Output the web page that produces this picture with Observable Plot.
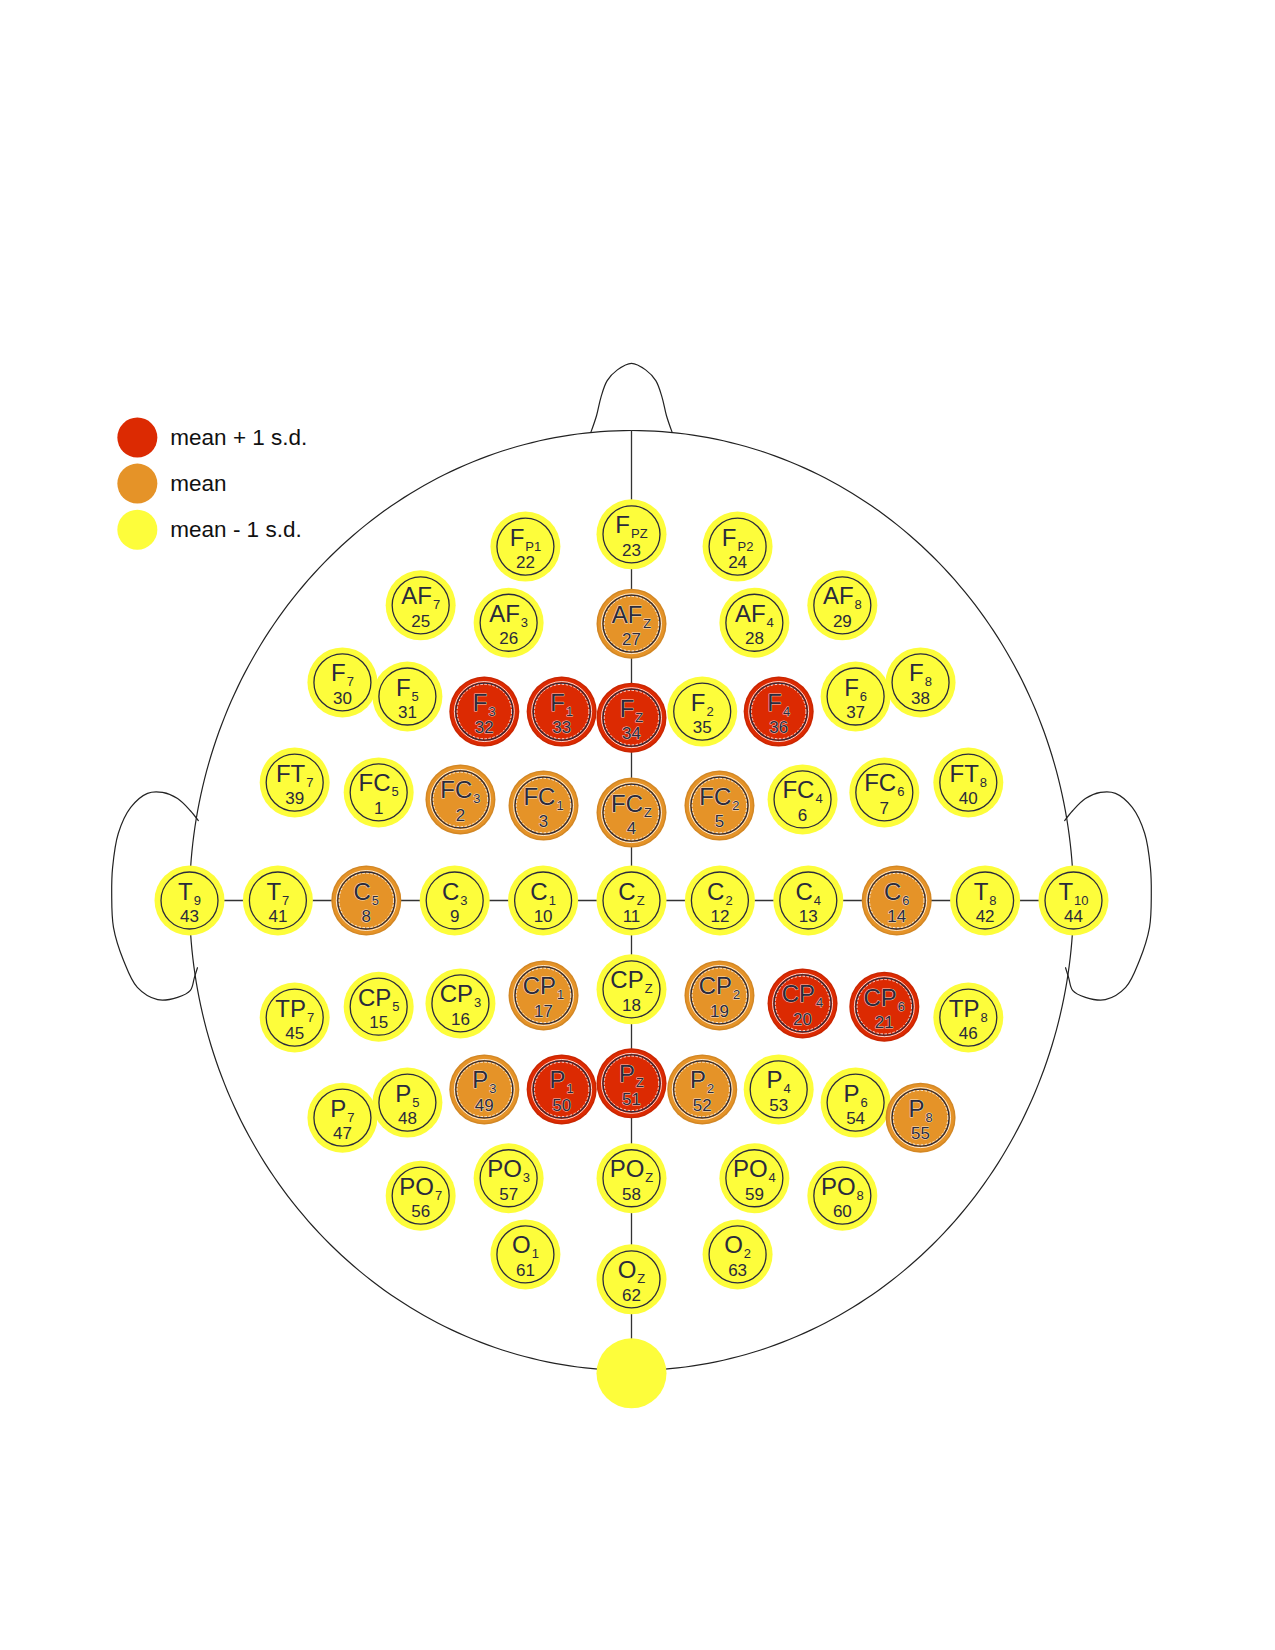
<!DOCTYPE html>
<html><head><meta charset="utf-8">
<script src="https://cdn.jsdelivr.net/npm/d3@7"></script>
<script src="https://cdn.jsdelivr.net/npm/@observablehq/plot@0.6"></script>
<style>body{margin:0;background:#fff} svg{display:block}</style>
</head><body><div id="chart"></div>
<script>
// ---- data (electrode montage, normalized head units: head radius = 1, front = up) ----
const electrodeMain = ["F","F","F","AF","AF","AF","AF","AF","F","F","F","F","F","F","F","F","F",
  "FT","FC","FC","FC","FC","FC","FC","FC","FT",
  "T","T","C","C","C","C","C","C","C","T","T",
  "TP","CP","CP","CP","CP","CP","CP","CP","TP",
  "P","P","P","P","P","P","P","P","P",
  "PO","PO","PO","PO","PO","O","O","O"];
const electrodeSub = ["P1","PZ","P2","7","3","Z","4","8","7","5","3","1","Z","2","4","6","8",
  "7","5","3","1","Z","2","4","6","8",
  "9","7","5","3","1","Z","2","4","6","8","10",
  "7","5","3","1","Z","2","4","6","8",
  "7","5","3","1","Z","2","4","6","8",
  "7","3","Z","4","8","1","Z","2"];
const electrodeNumber = [22,23,24,25,26,27,28,29,30,31,32,33,34,35,36,37,38,
  39,1,2,3,4,5,6,7,40,
  43,41,8,9,10,11,12,13,14,42,44,
  45,15,16,17,18,19,20,21,46,
  47,48,49,50,51,52,53,54,55,
  56,57,58,59,60,61,62,63];
const electrodeX = [-0.240,0,0.240,-0.477,-0.278,0,0.278,0.477,-0.654,-0.507,-0.333,-0.158,0,0.160,0.333,0.507,0.654,
  -0.762,-0.572,-0.387,-0.199,0,0.199,0.387,0.572,0.762,
  -1,-0.8,-0.6,-0.4,-0.2,0,0.2,0.4,0.6,0.8,1,
  -0.762,-0.572,-0.387,-0.199,0,0.199,0.387,0.572,0.762,
  -0.654,-0.507,-0.333,-0.158,0,0.160,0.333,0.507,0.654,
  -0.477,-0.278,0,0.278,0.477,-0.240,0,0.240];
const electrodeY = [0.753,0.779,0.753,0.628,0.591,0.589,0.591,0.628,0.464,0.434,0.402,0.402,0.389,0.402,0.402,0.434,0.464,
  0.251,0.230,0.215,0.202,0.187,0.202,0.215,0.230,0.251,
  0,0,0,0,0,0,0,0,0,0,0,
  -0.249,-0.226,-0.219,-0.202,-0.189,-0.202,-0.219,-0.226,-0.249,
  -0.462,-0.430,-0.402,-0.402,-0.389,-0.402,-0.402,-0.430,-0.462,
  -0.628,-0.591,-0.591,-0.591,-0.628,-0.753,-0.806,-0.753];
const electrodeLevel = ["low","low","low","low","low","mid","low","low","low","low","high","high","high","low","high","low","low",
  "low","low","mid","mid","mid","mid","low","low","low",
  "low","low","mid","low","low","low","low","low","mid","low","low",
  "low","low","low","mid","low","mid","high","high","low",
  "low","low","mid","high","high","mid","low","low","mid",
  "low","low","low","low","low","low","low","low"];
// reference (unlabelled) electrode below the head
const referenceX = [0];
const referenceY = [-1.006];
const referenceLevel = ["low"];

const levelKeys = ["high","mid","low"];
const levelLabels = ["mean + 1 s.d.","mean","mean - 1 s.d."];
const levelColors = ["#DC2A02","#E59328","#FDFD3B"];

// head outline pieces (normalized head units)
const noseX = [-0.092,-0.079,-0.069,-0.055,-0.032,0,0.032,0.055,0.069,0.079,0.092];
const noseY = [0.996,1.032,1.071,1.106,1.129,1.143,1.129,1.106,1.071,1.032,0.996];
const earX = [-0.980,-0.998,-1.027,-1.061,-1.095,-1.133,-1.161,-1.174,-1.176,-1.172,-1.149,-1.118,-1.072,-1.027,-0.998,-0.989,-0.982];
const earY = [0.170,0.191,0.217,0.230,0.228,0.198,0.143,0.070,0.015,-0.057,-0.128,-0.185,-0.211,-0.206,-0.191,-0.164,-0.143];

// ---- build tables ----
const electrodes = electrodeMain.map((m, i) => ({
  main: m, sub: electrodeSub[i], num: String(electrodeNumber[i]),
  x: electrodeX[i], y: electrodeY[i], level: electrodeLevel[i]
}));
const reference = referenceX.map((x, i) => ({x, y: referenceY[i], level: referenceLevel[i]}));
const lowE = electrodes.filter(d => d.level === "low");
const colE = electrodes.filter(d => d.level !== "low");

const head = d3.range(0, 361, 1).map(a => ({x: Math.cos(a * Math.PI / 180), y: Math.sin(a * Math.PI / 180)}));
const nose = noseX.map((x, i) => ({x, y: noseY[i]}));
const ears = [
  ...earX.map((x, i) => ({x, y: earY[i], side: "L"})),
  ...earX.map((x, i) => ({x: -x, y: earY[i], side: "R"}))
];
const legendRows = levelKeys.map((k, i) => ({level: k, label: levelLabels[i], x: -1.118, y: 0.985 - i * 0.098}));

const font = "Liberation Sans, Arial, Helvetica, sans-serif";
const ink = "#2a2a3c";
const R = 35;
const halo = {stroke: "white", strokeWidth: 1, strokeOpacity: 0.75};

const textMarks = (rows, useHalo) => [
  Plot.text(rows, {x: "x", y: "y", text: "main", fontSize: 24, lineAnchor: "bottom", dy: -1,
    fill: ink, textAnchor: "middle", ...(useHalo ? halo : {})}),
  Plot.text(rows, {x: "x", y: "y", text: "num", fontSize: 17, lineAnchor: "bottom", dy: 21.5,
    fill: ink, textAnchor: "middle", ...(useHalo ? halo : {})})
];

const chart = Plot.plot({
  width: 1275, height: 1650,
  margin: 0,
  style: {fontFamily: font, background: "white"},
  x: {domain: [-631 / 442, 644 / 442], range: [0, 1275], axis: null},
  y: {domain: [-750 / 470, 900 / 470], range: [1650, 0], axis: null},
  color: {domain: levelKeys, range: levelColors},
  marks: [
    Plot.line(head, {x: "x", y: "y", stroke: "#222", strokeWidth: 1.2}),
    Plot.line(nose, {x: "x", y: "y", stroke: "#222", strokeWidth: 1.2, curve: "catmull-rom"}),
    Plot.line(ears, {x: "x", y: "y", z: "side", stroke: "#222", strokeWidth: 1.2, curve: "catmull-rom"}),
    Plot.ruleX([0], {y1: referenceY[0], y2: 1, stroke: "#333", strokeWidth: 1.3}),
    Plot.ruleY([0], {x1: -1, x2: 1, stroke: "#333", strokeWidth: 1.3}),
    Plot.dot(reference, {x: "x", y: "y", r: R, fill: "level"}),
    Plot.dot(electrodes, {x: "x", y: "y", r: R, fill: "level"}),
    Plot.dot(colE, {x: "x", y: "y", r: R - 0.8, fill: "none", stroke: "black", strokeOpacity: 0.08, strokeWidth: 1.5}),
    Plot.dot(colE, {x: "x", y: "y", r: 30, fill: "none", stroke: "white", strokeWidth: 0.9, strokeOpacity: 0.9}),
    Plot.dot(electrodes, {x: "x", y: "y", r: 28.5, fill: "none", stroke: ink, strokeWidth: 1.3}),
    Plot.dot(colE, {x: "x", y: "y", r: 27.2, fill: "none", stroke: "white", strokeWidth: 0.8, strokeDasharray: "2.5,1.5"}),
    ...textMarks(lowE, false),
    ...textMarks(colE, true),
    Plot.dot(legendRows, {x: "x", y: "y", r: 20, fill: "level"}),
    Plot.text(legendRows, {x: "x", y: "y", text: "label", dx: 33, textAnchor: "start", fontSize: 22.5, fill: "#111"})
  ]
});

// add subscripts as tspans to the main electrode labels (find the text group whose contents match the rows)
function addSubs(svg, rows, used) {
  const groups = Array.from(svg.querySelectorAll("g"));
  for (const g of groups) {
    if (used.has(g)) continue;
    const texts = Array.from(g.children).filter(c => c.tagName.toLowerCase() === "text");
    if (texts.length !== rows.length) continue;
    if (!texts.every((t, i) => t.textContent === rows[i].main)) continue;
    used.add(g);
    texts.forEach((t, i) => {
      const ts = document.createElementNS("http://www.w3.org/2000/svg", "tspan");
      ts.setAttribute("font-size", "13");
      ts.setAttribute("dy", "5");
      ts.setAttribute("dx", "1");
      ts.textContent = rows[i].sub;
      t.appendChild(ts);
    });
    return;
  }
}
const usedGroups = new Set();
addSubs(chart, lowE, usedGroups);
addSubs(chart, colE, usedGroups);

document.getElementById("chart").appendChild(chart);
</script>
</body></html>
